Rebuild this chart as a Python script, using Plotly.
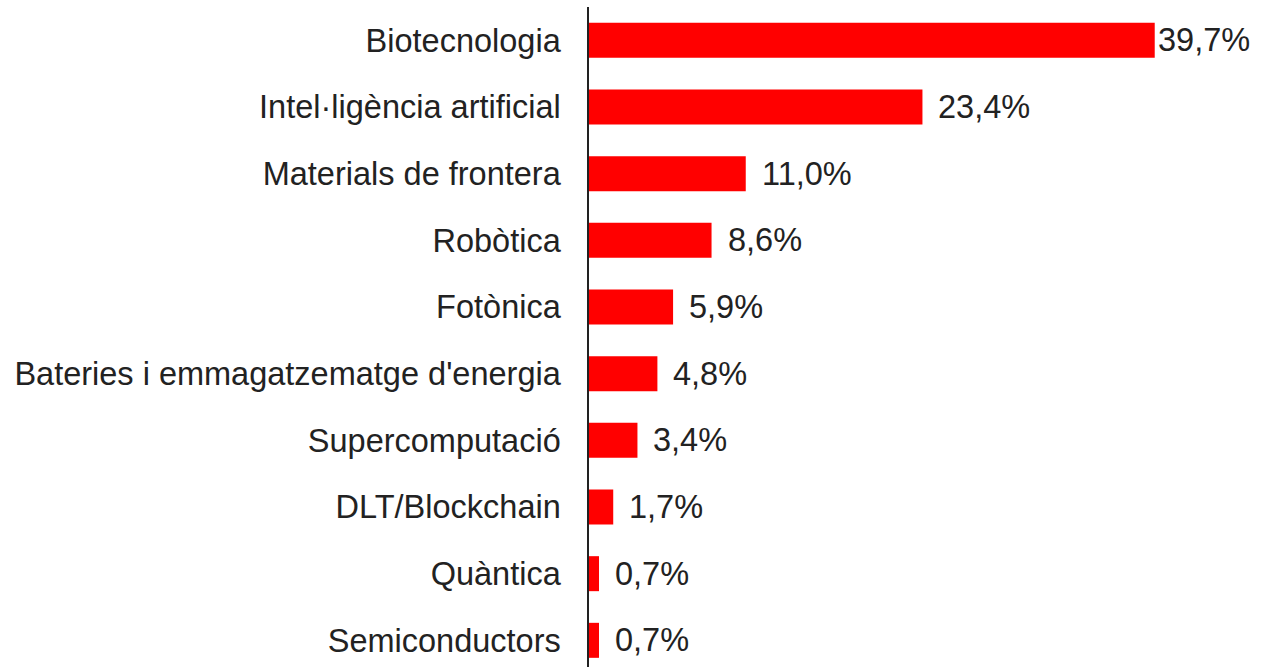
import plotly.graph_objects as go

categories = ["Biotecnologia", "Intel·ligència artificial", "Materials de frontera", "Robòtica",
              "Fotònica", "Bateries i emmagatzematge d'energia", "Supercomputació",
              "DLT/Blockchain", "Quàntica", "Semiconductors"]
values = [39.7, 23.4, 11.0, 8.6, 5.9, 4.8, 3.4, 1.7, 0.7, 0.7]
labels = [f"{v:.1f}".replace(".", ",") + "%" for v in values]

FS = 32.5

fig = go.Figure(go.Bar(
    x=values, y=categories, orientation="h",
    marker=dict(color="#ff0000", line=dict(width=0)),
    width=0.525,
    hoverinfo="skip",
))

for i, (c, v, t) in enumerate(zip(categories, values, labels)):
    fig.add_annotation(x=v, y=c, text=t, showarrow=False, xanchor="left",
                       xshift=1 if i == 0 else 14,
                       font=dict(size=FS, color="#222222"))

fig.update_layout(
    width=1279, height=667,
    margin=dict(l=589, r=6, t=7, b=0),
    paper_bgcolor="white", plot_bgcolor="white",
    font=dict(family="Liberation Sans, Arial, sans-serif", size=FS, color="#222222"),
    showlegend=False,
    xaxis=dict(range=[0, 48], visible=False, showgrid=False, zeroline=False),
    yaxis=dict(type="category", range=[9.4, -0.5], showgrid=False, zeroline=False,
               showline=True, linecolor="#222222", linewidth=1.5,
               ticks="", ticklabelstandoff=20,
               tickfont=dict(size=FS, color="#222222")),
)

fig.write_html("out.html", config={"displayModeBar": False},
               post_script="document.body.style.margin='0';")
